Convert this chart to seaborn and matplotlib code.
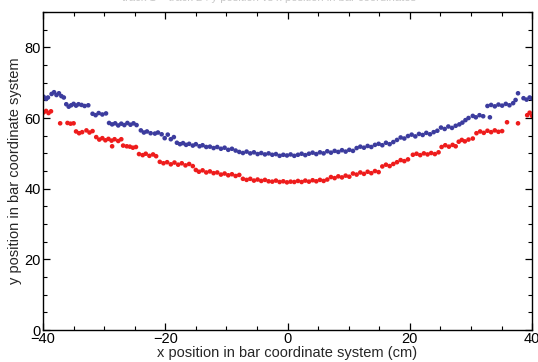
import numpy as np
import pandas as pd
import matplotlib
matplotlib.use("Agg")
import matplotlib.pyplot as plt
from matplotlib.ticker import MultipleLocator
import seaborn as sns

# track 1 (blue): hit positions in bar coordinates
x_track1 = [-39.9, -39.5, -39.2, -38.6, -38.2, -37.8, -37.4, -37.0, -36.6, -36.2, -35.8, -35.4,
            -35.0, -34.6, -34.2, -33.7, -33.2, -32.6, -31.9, -31.4, -30.9, -30.3, -29.7, -29.2,
            -28.7, -28.2, -27.7, -27.2, -26.7, -26.2, -25.7, -25.2, -24.7, -24.0, -23.5, -23.0,
            -22.4, -21.7, -21.2, -20.6, -20.1, -19.6, -19.1, -18.6, -18.1, -17.6, -17.1, -16.6,
            -16.1, -15.5, -15.0, -14.4, -13.9, -13.3, -12.7, -12.1, -11.5, -10.9, -10.3, -9.7,
            -9.1, -8.5, -7.9, -7.3, -6.7, -6.1, -5.5, -4.9, -4.3, -3.7, -3.1, -2.5, -1.9, -1.3,
            -0.7, -0.1, 0.5, 1.1, 1.7, 2.3, 2.9, 3.5, 4.1, 4.7, 5.3, 5.9, 6.5, 7.1, 7.7, 8.3,
            8.9, 9.5, 10.1, 10.7, 11.3, 11.9, 12.5, 13.1, 13.7, 14.3, 14.9, 15.5, 16.1, 16.7,
            17.3, 17.9, 18.5, 19.1, 19.7, 20.3, 20.9, 21.5, 22.1, 22.7, 23.3, 23.9, 24.5, 25.1,
            25.7, 26.3, 26.9, 27.5, 28.1, 28.6, 29.1, 29.6, 30.3, 30.8, 31.4, 32.0, 33.1, 32.7,
            33.3, 33.9, 34.5, 35.1, 35.7, 36.3, 36.9, 37.3, 37.7, 38.6, 39.1, 39.6, 40.0]
y_track1 = [66.0, 65.4, 65.8, 66.8, 67.3, 66.5, 67.0, 66.2, 65.8, 63.9, 63.2, 63.6,
            64.0, 63.5, 63.9, 63.7, 63.4, 63.6, 61.2, 60.8, 61.4, 61.0, 61.3, 58.6,
            58.2, 58.5, 57.9, 58.4, 58.0, 58.6, 58.1, 58.5, 58.0, 56.5, 55.9, 56.2,
            55.7, 55.6, 55.9, 55.4, 54.3, 55.3, 54.0, 54.6, 53.0, 52.6, 52.9, 52.4,
            52.7, 52.2, 52.6, 52.0, 52.3, 51.8, 51.9, 51.5, 51.8, 51.3, 51.6, 51.0,
            51.3, 50.8, 50.4, 50.1, 50.5, 50.0, 50.3, 49.8, 50.1, 49.7, 50.0, 49.6, 49.8, 49.3,
            49.6, 49.4, 49.7, 49.3, 49.6, 49.9, 49.5, 49.9, 50.2, 49.8, 50.3, 50.0, 50.6, 50.2, 50.7, 50.4,
            50.9, 50.5, 51.0, 50.7, 51.5, 51.9, 51.6, 52.1, 51.8, 52.4, 52.7, 52.3, 53.0, 52.6,
            53.2, 53.8, 54.5, 54.2, 54.9, 55.3, 54.8, 55.5, 55.2, 55.8, 55.4, 56.0, 56.4, 57.3,
            56.9, 57.6, 57.2, 57.8, 58.2, 58.7, 59.4, 60.0, 60.6, 60.2, 60.8, 60.5, 60.2, 63.4,
            63.7, 63.3, 63.8, 63.5, 64.0, 63.6, 64.2, 65.1, 67.0, 65.6, 65.2, 65.8, 65.5]

# track 2 (red): hit positions in bar coordinates
x_track2 = [-39.9, -39.5, -39.1, -38.7, -37.2, -36.0, -35.5, -35.0, -34.6, -34.1, -33.6, -32.9,
            -32.4, -31.9, -31.3, -30.8, -30.3, -29.8, -29.3, -28.8, -28.3, -27.7, -27.2, -28.7,
            -26.9, -26.3, -25.8, -25.3, -24.8, -24.3, -23.7, -23.2, -22.6, -22.0, -21.5, -20.9,
            -20.3, -19.7, -19.1, -18.5, -17.9, -17.3, -16.7, -16.1, -15.5, -15.0, -14.5, -13.9,
            -13.3, -12.7, -12.1, -11.5, -10.9, -10.3, -9.7, -9.1, -8.5, -7.9, -7.3, -6.7,
            -6.1, -5.5, -4.9, -4.3, -3.7, -3.1, -2.5, -1.9, -1.3, -0.7, -0.1, 0.5, 1.1, 1.7,
            2.3, 2.9, 3.5, 4.1, 4.7, 5.3, 5.9, 6.5, 7.1, 7.7, 8.3, 8.9, 9.5, 10.1, 10.7, 11.3,
            11.9, 12.5, 13.1, 13.7, 14.3, 14.9, 15.5, 16.1, 16.7, 17.3, 17.9, 18.5, 19.1, 19.7,
            20.5, 21.1, 21.7, 22.3, 22.9, 23.5, 24.1, 24.7, 25.2, 25.8, 26.4, 27.0, 27.5, 28.0,
            28.5, 29.0, 29.6, 30.3, 30.9, 31.5, 32.1, 32.7, 33.3, 33.9, 34.5, 35.1, 35.9, 37.7,
            39.2, 39.6, 40.0]
y_track2 = [61.6, 62.0, 61.4, 61.9, 58.5, 58.6, 58.4, 58.5, 56.2, 55.7, 56.0, 56.5,
            55.9, 56.3, 54.6, 53.9, 54.3, 53.7, 54.1, 53.6, 54.0, 53.5, 54.0, 52.0,
            52.2, 52.0, 51.9, 51.6, 51.8, 49.8, 49.5, 49.9, 49.3, 49.7, 49.2, 47.6,
            47.2, 47.5, 46.9, 47.4, 46.8, 47.2, 46.6, 47.0, 46.4, 45.3, 44.8, 45.2,
            44.6, 44.9, 44.4, 44.6, 44.0, 44.3, 43.8, 44.1, 43.6, 43.9, 42.8, 42.5,
            42.8, 42.3, 42.6, 42.2, 42.5, 42.1, 42.0, 42.3, 41.9, 42.1, 41.8, 42.0, 41.9, 42.2,
            41.9, 42.3, 42.0, 42.4, 42.1, 42.5, 42.2, 42.6, 43.3, 43.0, 43.5, 43.2, 43.7, 43.4, 44.3, 44.0,
            44.6, 44.2, 44.8, 44.4, 45.0, 44.7, 46.3, 46.8, 46.4, 47.0, 47.5, 48.1, 47.8, 48.3,
            49.6, 49.9, 49.5, 50.0, 49.7, 50.1, 49.8, 50.3, 51.8, 52.3, 51.9, 52.4, 52.0, 53.3,
            53.8, 53.4, 53.9, 54.2, 55.7, 56.2, 55.8, 56.4, 56.0, 56.5, 56.1, 56.3, 58.8, 58.5,
            60.8, 61.5, 60.6]

track_names = ["track 1", "track 2"]
track_colors = ["#3c3c9e", "#ee1c1c"]

df = pd.concat([
    pd.DataFrame({"x": x_track1, "y": y_track1, "track": track_names[0]}),
    pd.DataFrame({"x": x_track2, "y": y_track2, "track": track_names[1]}),
], ignore_index=True)

sns.set_theme(style="white")
plt.rcParams["font.family"] = ["Liberation Sans", "DejaVu Sans"]

fig = plt.figure(figsize=(5.38, 3.62), dpi=100)
ax = fig.add_axes([0.080, 0.088, 0.909, 0.879])

sns.scatterplot(data=df, x="x", y="y", hue="track", palette=track_colors,
                marker="o", s=11, linewidth=0, legend=False, ax=ax)

ax.set_xlim(-40, 40)
ax.set_ylim(0, 90)
ax.xaxis.set_major_locator(MultipleLocator(20))
ax.xaxis.set_minor_locator(MultipleLocator(5))
ax.yaxis.set_major_locator(MultipleLocator(20))
ax.yaxis.set_minor_locator(MultipleLocator(5))
ax.tick_params(which="both", direction="in", top=True, right=True,
               bottom=True, left=True, colors="black", labelsize=10.5, pad=1.5)
ax.tick_params(which="major", length=5, width=0.9)
ax.tick_params(which="minor", length=3, width=0.8)
for sp in ax.spines.values():
    sp.set_color("black")
    sp.set_linewidth(1.0)

ax.set_xlabel("x position in bar coordinate system (cm)", fontsize=10.5, labelpad=0)
ax.set_ylabel("y position in bar coordinate system", fontsize=10.5, labelpad=2)

fig.text(0.5, 1.005, "track 1 + track 2 : y position vs x position in bar coordinates",
         ha="center", va="center", fontsize=8, color="#c8c8c8")

fig.savefig("out.png", dpi=100)
